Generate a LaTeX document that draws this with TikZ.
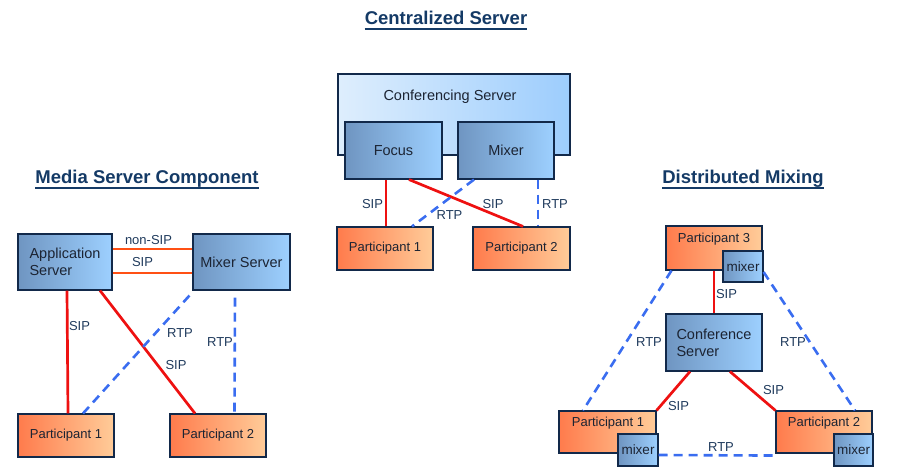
\documentclass[tikz,border=0pt]{standalone}
\usepackage{fontspec}
\setmainfont{Liberation Sans}
\usetikzlibrary{calc}

\definecolor{edge}{HTML}{12294A}
\definecolor{titleblue}{HTML}{143A66}
\definecolor{lbltxt}{HTML}{1F3A5C}
\definecolor{boxtxt}{HTML}{1C2433}
\definecolor{srvL}{HTML}{6F95C1}
\definecolor{srvR}{HTML}{9DD0FF}
\definecolor{hostL}{HTML}{DEEEFD}
\definecolor{hostR}{HTML}{9DCDFD}
\definecolor{prtL}{HTML}{FF7B4C}
\definecolor{prtR}{HTML}{FFCC99}
\definecolor{sigred}{HTML}{EE1111}
\definecolor{linkorange}{HTML}{FF5014}
\definecolor{mediablue}{HTML}{3A6DF0}

\begin{document}
\begin{tikzpicture}[x=1pt,y=-1pt,
  box/.style={draw=edge, line width=1.1pt, inner sep=0pt, text=boxtxt},
  host/.style={box, left color=hostL, right color=hostR},
  srv/.style={box, left color=srvL, right color=srvR, font=\fontsize{14.5}{17}\selectfont},
  part/.style={box, left color=prtL, right color=prtR, minimum width=96pt,
    minimum height=43pt, font=\fontsize{13}{15}\selectfont},
  mixbox/.style={box, left color=srvL, right color=srvR, minimum width=40pt,
    minimum height=31pt, font=\fontsize{13.5}{15}\selectfont},
  ptxt/.style={inner sep=0pt, text=boxtxt, font=\fontsize{13}{15}\selectfont},
  lbl/.style={inner sep=0pt, text=lbltxt, font=\fontsize{13}{15}\selectfont},
  heading/.style={inner sep=0pt, anchor=base, text=titleblue,
    font=\bfseries\fontsize{18.5}{22}\selectfont},
  sip/.style={draw=sigred, line width=2.7pt},
  nonsip/.style={draw=linkorange, line width=2.7pt},
  rtp/.style={draw=mediablue, line width=2.6pt, dash pattern=on 9pt off 6pt},
]
\useasboundingbox (0,0) rectangle (903,475);

% ---------- headings ----------
\node[heading] (hCentral) at (446,24) {Centralized Server};
\node[heading] (hMedia) at (147,183) {Media Server Component};
\node[heading] (hDist) at (743,183) {Distributed Mixing};
\foreach \h in {hCentral,hMedia,hDist}
  \draw[titleblue, line width=2pt] ([yshift=-4.5pt]\h.base west) -- ([yshift=-4.5pt]\h.base east);

% ---------- centralized server ----------
\node[host, minimum width=232pt, minimum height=81pt] (conf) at (454,114.5) {};
\node[inner sep=0pt, text=boxtxt, font=\fontsize{14.5}{17}\selectfont] (confLbl) at (450,97) {Conferencing Server};
\node[srv, minimum width=97pt, minimum height=57pt] (focus) at (393.5,150.5) {Focus};
\node[srv, minimum width=96pt, minimum height=57pt] (mixer) at (506,150.5) {Mixer};
\node[part] (cp1) at (385,248.5) {Participant 1};
\node[part, minimum width=97pt] (cp2) at (521.5,248.5) {Participant 2};

\draw[sip] ([xshift=-7.5pt]focus.south) -- ([xshift=1pt]cp1.north);
\draw[sip] ([xshift=15.5pt]focus.south) -- ([xshift=1.5pt]cp2.north);
\draw[rtp] ([xshift=-32pt]mixer.south) -- ([xshift=27pt]cp1.north);
\draw[rtp] ([xshift=32pt]mixer.south) -- ([xshift=16.5pt]cp2.north);

\node[lbl] (cS1) at (372.5,204) {SIP};
\node[lbl] (cR1) at (449.5,215.5) {RTP};
\node[lbl] (cS2) at (493,204) {SIP};
\node[lbl] (cR2) at (555,204) {RTP};

% ---------- media server component ----------
\node[srv, minimum width=94pt, minimum height=56pt, align=left] (app) at (65,262) {\raisebox{-2pt}{Application}\\\raisebox{-2pt}{Server}};
\node[srv, minimum width=97pt, minimum height=56pt] (msrv) at (241.5,262) {\raisebox{-3pt}{Mixer Server}};
\node[part] (lp1) at (66,435.5) {Participant 1};
\node[part] (lp2) at (218,435.5) {Participant 2};

\draw[nonsip] ([yshift=13pt]app.east) -- ([yshift=13pt]msrv.west);
\draw[nonsip] ([yshift=-11pt]app.east) -- ([yshift=-11pt]msrv.west);
\draw[sip] ([xshift=2pt]app.south) -- ([xshift=2pt]lp1.north);
\draw[sip] ([xshift=35pt]app.south) -- ([xshift=-23pt]lp2.north);
\draw[rtp] ([xshift=-3pt,yshift=-5pt]msrv.south west) -- ([xshift=17pt]lp1.north);
\draw[rtp] ([xshift=-6.5pt,yshift=-7pt]msrv.south) -- ([xshift=16.5pt]lp2.north);

\node[lbl] (mNon) at (148.5,240) {non-SIP};
\node[lbl] (mS0) at (142.5,262) {SIP};
\node[lbl] (mS1) at (79.5,326) {SIP};
\node[lbl] (mR1) at (180,333) {RTP};
\node[lbl] (mR2) at (220,342) {RTP};
\node[lbl] (mS2) at (176,365) {SIP};

% ---------- distributed mixing ----------
\node[part, minimum height=44pt] (p3) at (714,248) {};
\node[ptxt] (p3Lbl) at (714,239.5) {Participant 3};
\node[mixbox] (m3) at (743,266.5) {mixer};

\node[srv, minimum width=96pt, minimum height=57pt, align=left] (cs) at (714,342.5) {\raisebox{-2pt}{Conference}\\\raisebox{-2pt}{Server}};

\node[part, minimum width=97pt, minimum height=42pt] (rp1) at (607.5,432) {};
\node[ptxt] (rp1Lbl) at (608,423) {Participant 1};
\node[mixbox, minimum height=32pt] (m1) at (638,450) {mixer};

\node[part, minimum height=42pt] (rp2) at (824,432) {};
\node[ptxt] (rp2Lbl) at (824,423) {Participant 2};
\node[mixbox, minimum width=39pt, minimum height=32pt] (m2) at (853.5,450) {mixer};

\draw[sip] (p3.south) -- (cs.north);
\draw[sip] ([xshift=-24pt]cs.south) -- (rp1.north east);
\draw[sip] ([xshift=16pt]cs.south) -- (rp2.north west);
\draw[rtp] ([xshift=6pt]p3.south west) -- ([xshift=-24.5pt]rp1.north);
\draw[rtp] ([yshift=-5.5pt]m3.east) -- ([xshift=31pt]rp2.north);
\draw[rtp] ([yshift=-5pt]m1.east) -- ([yshift=-2pt]rp2.south west);

\node[lbl] (dS3) at (726.5,294) {SIP};
\node[lbl] (dR1) at (649,342) {RTP};
\node[lbl] (dR2) at (793,342) {RTP};
\node[lbl] (dS2) at (773.5,390) {SIP};
\node[lbl] (dS1) at (678.5,406) {SIP};
\node[lbl] (dR3) at (721,447) {RTP};
\end{tikzpicture}
\end{document}
